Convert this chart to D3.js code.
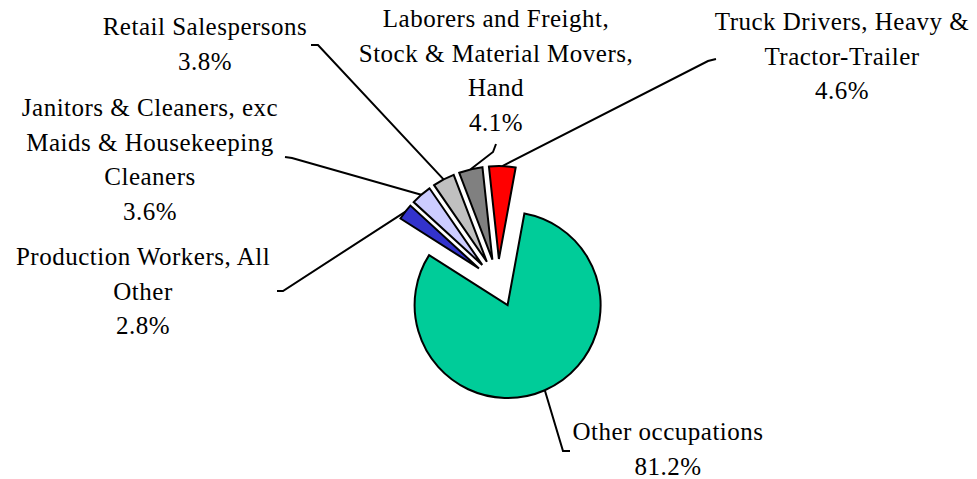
<!DOCTYPE html>
<html>
<head>
<meta charset="utf-8">
<script src="https://cdn.jsdelivr.net/npm/d3@7"></script>
<style>
  body { margin: 0; background: #fff; }
</style>
</head>
<body>
<div id="pie-chart"></div>
<script>
// data, clockwise from the start angle
var categories = ["Other occupations", "Production Workers, All Other",
                  "Janitors & Cleaners, exc Maids & Housekeeping Cleaners",
                  "Retail Salespersons",
                  "Laborers and Freight, Stock & Material Movers, Hand",
                  "Truck Drivers, Heavy & Tractor-Trailer"];
var shares = [81.2, 2.8, 3.6, 3.8, 4.1, 4.6];
var pct_labels = ["81.2%", "2.8%", "3.6%", "3.8%", "4.1%", "4.6%"];
var colors = ["#00CC99", "#3333CC", "#CCCCFF", "#C0C0C0", "#808080", "#FF0000"];

// label layout: wrapped lines, text centre / first baseline, leader elbow and end
var label_layout = [
  {lines: ["Other occupations"], x: 668, y: 440, elbow: [563, 451], end: [570, 451]},
  {lines: ["Production Workers, All", "Other"], x: 143, y: 265, elbow: [283, 291], end: [277, 291]},
  {lines: ["Janitors & Cleaners, exc", "Maids & Housekeeping", "Cleaners"], x: 150, y: 116, elbow: [292, 158], end: [285, 157]},
  {lines: ["Retail Salespersons"], x: 205, y: 35, elbow: [318, 45], end: [311, 45]},
  {lines: ["Laborers and Freight,", "Stock & Material Movers,", "Hand"], x: 496, y: 27, elbow: [493, 152], end: [496, 144]},
  {lines: ["Truck Drivers, Heavy &", "Tractor-Trailer"], x: 842, y: 30, elbow: [708, 61], end: [716, 59]}
];

var width = 977, height = 479;
var cx = 498, cy = 283, radius = 93, explode = 24;
var line_height = 34.6;
var start_angle = 10.4 * Math.PI / 180;

var svg = d3.select("#pie-chart")
  .append("svg")
    .attr("width", width)
    .attr("height", height);

var pie = d3.pie()
  .sort(null)
  .value(function(d) { return d; })
  .startAngle(start_angle)
  .endAngle(start_angle + 2 * Math.PI);

var arcs = pie(shares);

var arc = d3.arc()
  .innerRadius(0)
  .outerRadius(radius);

// offset of a slice along its bisector
function offset(d, dist) {
  var a = (d.startAngle + d.endAngle) / 2;
  return [dist * Math.sin(a), -dist * Math.cos(a)];
}

var g = svg.append("g")
  .attr("transform", "translate(" + cx + "," + cy + ")");

g.selectAll(".slice")
  .data(arcs)
  .enter().append("path")
    .attr("class", "slice")
    .attr("d", arc)
    .attr("transform", function(d) {
      var o = offset(d, explode);
      return "translate(" + o[0] + "," + o[1] + ")";
    })
    .attr("fill", function(d, i) { return colors[i]; })
    .attr("stroke", "#000")
    .attr("stroke-width", 2)
    .attr("stroke-linejoin", "miter");

// leader lines from the middle of each slice's outer edge
svg.selectAll(".leader")
  .data(arcs)
  .enter().append("polyline")
    .attr("class", "leader")
    .attr("points", function(d, i) {
      var o = offset(d, explode + radius);
      var L = label_layout[i];
      return [[cx + o[0], cy + o[1]], L.elbow, L.end].map(function(p) { return p.join(","); }).join(" ");
    })
    .attr("fill", "none")
    .attr("stroke", "#000")
    .attr("stroke-width", 2);

// labels
label_layout.forEach(function(L, i) {
  var t = svg.append("text")
    .attr("text-anchor", "middle")
    .attr("font-family", "Liberation Serif")
    .attr("font-size", 25)
    .attr("letter-spacing", 0.5)
    .attr("fill", "#000");
  L.lines.concat([pct_labels[i]]).forEach(function(s, j) {
    t.append("tspan")
      .attr("x", L.x)
      .attr("y", L.y + j * line_height)
      .text(s);
  });
});
</script>
</body>
</html>
